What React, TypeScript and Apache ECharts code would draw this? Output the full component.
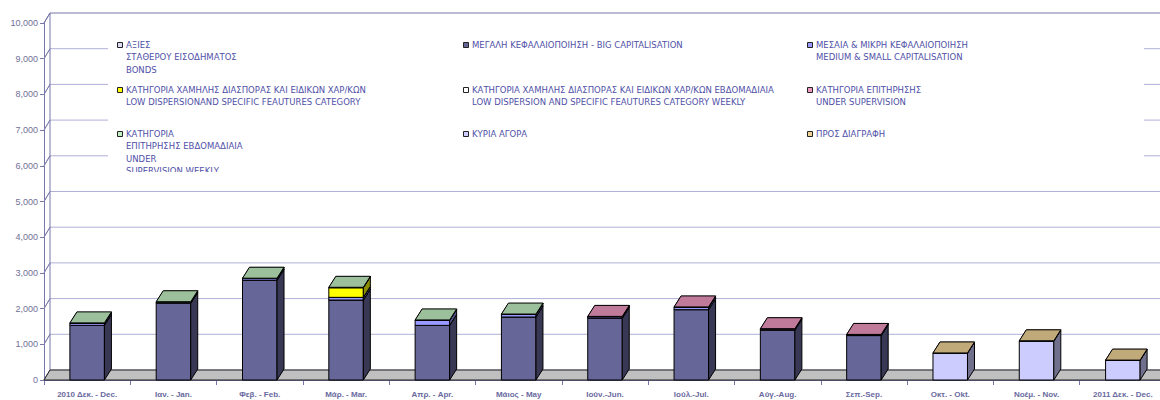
import React, { useEffect, useRef } from "react";
import * as echarts from "echarts";

const categories = [
  "2010 Δεκ. - Dec.", "Ιαν. - Jan.", "Φεβ. - Feb.", "Μάρ. - Mar.", "Απρ. - Apr.",
  "Μάιος - May", "Ιούν.-Jun.", "Ιούλ.-Jul.", "Αύγ.-Aug.", "Σεπ.-Sep.",
  "Οκτ. - Okt.", "Νοέμ. - Nov.", "2011 Δεκ. - Dec.",
];

const N = null;
const bonds = [N, N, N, N, N, N, N, N, N, N, N, N, N];
const bigCap = [1530, 2150, 2790, 2240, 1530, 1765, 1730, 1970, 1400, 1245, N, N, N];
const midSmallCap = [55, 30, 50, 75, 140, 70, 40, 65, 25, 20, N, N, N];
const lowDispersion = [N, N, N, 270, N, N, N, N, N, N, N, N, N];
const lowDispersionWeekly = [N, N, N, N, N, N, N, N, N, N, N, N, N];
const underSupervision = [N, N, N, N, N, N, 12, 12, 12, 12, N, N, N];
const underSupervisionWeekly = [15, 12, 12, 12, 12, 12, N, N, N, N, N, N, N];
const mainMarket = [N, N, N, N, N, N, N, N, N, N, 750, 1090, 550];
const toDelete = [N, N, N, N, N, N, N, N, N, N, 8, 8, 8];

const yTicks = [0, 1000, 2000, 3000, 4000, 5000, 6000, 7000, 8000, 9000, 10000];

const seriesNames = [
  "ΑΞΙΕΣ\nΣΤΑΘΕΡΟΥ ΕΙΣΟΔΗΜΑΤΟΣ\nBONDS",
  "ΜΕΓΑΛΗ ΚΕΦΑΛΑΙΟΠΟΙΗΣΗ - BIG CAPITALISATION",
  "ΜΕΣΑΙΑ & ΜΙΚΡΗ ΚΕΦΑΛΑΙΟΠΟΙΗΣΗ\nMEDIUM & SMALL CAPITALISATION",
  "ΚΑΤΗΓΟΡΙΑ ΧΑΜΗΛΗΣ ΔΙΑΣΠΟΡΑΣ ΚΑΙ ΕΙΔΙΚΩΝ ΧΑΡ/ΚΩΝ\nLOW DISPERSIONAND SPECIFIC FEAUTURES CATEGORY",
  "ΚΑΤΗΓΟΡΙΑ ΧΑΜΗΛΗΣ ΔΙΑΣΠΟΡΑΣ ΚΑΙ ΕΙΔΙΚΩΝ ΧΑΡ/ΚΩΝ ΕΒΔΟΜΑΔΙΑΙΑ\nLOW DISPERSION AND SPECIFIC FEAUTURES CATEGORY WEEKLY",
  "ΚΑΤΗΓΟΡΙΑ ΕΠΙΤΗΡΗΣΗΣ\nUNDER SUPERVISION",
  "ΚΑΤΗΓΟΡΙΑ\nΕΠΙΤΗΡΗΣΗΣ ΕΒΔΟΜΑΔΙΑΙΑ\nUNDER\nSUPERVISION WEEKLY",
  "ΚΥΡΙΑ ΑΓΟΡΑ",
  "ΠΡΟΣ ΔΙΑΓΡΑΦΗ",
];

const seriesValues = [
  bonds, bigCap, midSmallCap, lowDispersion, lowDispersionWeekly,
  underSupervision, underSupervisionWeekly, mainMarket, toDelete,
];

const seriesColors = [
  "#dcdcf4", "#666699", "#9999ff", "#ffff00", "#ffffff",
  "#f099c0", "#c2f0c2", "#ccccff", "#f0d498",
];

function shade(hex: string, f: number) {
  const n = parseInt(hex.slice(1), 16);
  const r = Math.round(((n >> 16) & 255) * f);
  const g = Math.round(((n >> 8) & 255) * f);
  const b = Math.round((n & 255) * f);
  return `rgb(${r},${g},${b})`;
}

const DX = 7, DY = 11; // bar depth
const FDX = 6, FDY = 10; // floor/wall depth
const GRID_COLOR = "#b0b0d8";
const AXIS_COLOR = "#7777aa";
const TEXT_COLOR = "#5050a8";

export default function App() {
  const ref = useRef<HTMLDivElement>(null);
  useEffect(() => {
    if (!ref.current) return;
    const chart = echarts.init(ref.current, undefined, { renderer: "svg" });

    const cum = categories.map(() => 0);
    const barSeries: any[] = seriesValues.map((vals, si) => {
      const data: any[] = [];
      vals.forEach((v, ci) => {
        if (v == null) return;
        const b = cum[ci];
        const t = b + v;
        cum[ci] = t;
        data.push([ci, b, t]);
      });
      const col = seriesColors[si];
      const front = col;
      const side = shade(col, 0.55);
      const top = shade(col, 0.8);
      return {
        type: "custom",
        name: seriesNames[si],
        z: 5,
        clip: false,
        encode: { x: 0, y: [1, 2] },
        data,
        renderItem: (params: any, api: any) => {
          const idx = api.value(0);
          const pb = api.coord([idx, api.value(1)]);
          const pt = api.coord([idx, api.value(2)]);
          const bw = api.size([1, 0])[0] * 0.4;
          const x0 = pb[0] - bw / 2;
          const x1 = x0 + bw;
          const yb = pb[1];
          const yt = pt[1];
          const st = (fill: string) => ({ fill, stroke: "#000", lineWidth: 1 });
          return {
            type: "group",
            children: [
              { type: "polygon", shape: { points: [[x0, yb], [x1, yb], [x1, yt], [x0, yt]] }, style: st(front) },
              { type: "polygon", shape: { points: [[x1, yb], [x1 + DX, yb - DY], [x1 + DX, yt - DY], [x1, yt]] }, style: st(side) },
              { type: "polygon", shape: { points: [[x0, yt], [x1, yt], [x1 + DX, yt - DY], [x0 + DX, yt - DY]] }, style: st(top) },
            ],
          };
        },
      };
    });

    const frameSeries = {
      type: "custom",
      z: 1,
      clip: false,
      silent: true,
      encode: { x: 0, y: 1 },
      data: [[0, 0]],
      renderItem: (params: any, api: any) => {
        const cs = params.coordSys;
        const left = cs.x;
        const right = cs.x + cs.width + 20;
        const children: any[] = [];
        yTicks.forEach((v) => {
          const y = api.coord([0, v])[1];
          const isTop = v === yTicks[yTicks.length - 1];
          children.push({
            type: "polyline",
            shape: { points: [[left, y], [left + FDX, y - FDY], [right, y - FDY]] },
            style: { stroke: isTop ? AXIS_COLOR : GRID_COLOR, lineWidth: 1, fill: null },
          });
          children.push({
            type: "line",
            shape: { x1: left, y1: y, x2: left + FDX, y2: y - FDY },
            style: { stroke: AXIS_COLOR, lineWidth: 1 },
          });
        });
        const y0 = api.coord([0, yTicks[0]])[1];
        const yTop = api.coord([0, yTicks[yTicks.length - 1]])[1];
        children.push({
          type: "line",
          shape: { x1: left + FDX, y1: y0 - FDY, x2: left + FDX, y2: yTop - FDY },
          style: { stroke: AXIS_COLOR, lineWidth: 1 },
        });
        const fb = cs.y + cs.height;
        children.push({
          type: "polygon",
          shape: { points: [[left, fb], [right, fb], [right + FDX, fb - FDY], [left + FDX, fb - FDY]] },
          style: { fill: "#c0c0c0", stroke: "#222", lineWidth: 1 },
        });
        return { type: "group", children };
      },
    };

    const colX = [117.5, 463.5, 807.5];
    const rowY = [39, 84, 128];
    const legendEls: any[] = [
      { type: "rect", shape: { x: 108, y: 22, width: 1036, height: 150 }, style: { fill: "#fff" }, z: 100 },
    ];
    seriesNames.forEach((name, i) => {
      const cx = colX[i % 3];
      const ry = rowY[Math.floor(i / 3)];
      legendEls.push({
        type: "rect",
        shape: { x: cx, y: ry + 3.5, width: 5, height: 5 },
        style: { fill: seriesColors[i], stroke: "#222", lineWidth: 1 },
        z: 101,
      });
      legendEls.push({
        type: "text",
        x: cx + 8.5,
        y: ry,
        style: {
          text: name,
          fill: TEXT_COLOR,
          font: "8.5px 'DejaVu Sans'",
          lineHeight: 12.2,
          verticalAlign: "top",
          align: "left",
        },
        z: 101,
      });
    });
    legendEls.push({ type: "rect", shape: { x: 110, y: 172, width: 300, height: 8 }, style: { fill: "#fff" }, z: 102 });

    chart.setOption({
      animation: false,
      backgroundColor: "#fff",
      grid: { left: 44, top: 23, height: 357, width: 1122, containLabel: false },
      xAxis: {
        type: "category",
        data: categories,
        axisLine: { show: true, lineStyle: { color: AXIS_COLOR } },
        axisTick: { show: true, length: 5, lineStyle: { color: AXIS_COLOR } },
        axisLabel: {
          interval: 0,
          margin: 10,
          color: "#6a6aa0",
          fontSize: 8,
          fontWeight: "bold",
          fontFamily: "'Liberation Sans', Arial, sans-serif",
        },
        splitLine: { show: false },
      },
      yAxis: {
        type: "value",
        min: 0,
        max: 10000,
        interval: 1000,
        axisLine: { show: true, lineStyle: { color: AXIS_COLOR } },
        axisTick: { show: true, length: 4, lineStyle: { color: AXIS_COLOR } },
        axisLabel: {
          margin: 6,
          color: "#707098",
          fontSize: 9,
          fontFamily: "'Liberation Sans', Arial, sans-serif",
          formatter: (v: number) => v.toLocaleString("en-US"),
        },
        splitLine: { show: false },
      },
      series: [frameSeries, ...barSeries],
      graphic: legendEls,
    });
    return () => chart.dispose();
  }, []);

  return (
    <div style={{ position: "fixed", left: 0, top: 0, width: 1160, height: 400, overflow: "hidden", background: "#fff" }}>
      <div ref={ref} style={{ width: 1180, height: 400 }} />
    </div>
  );
}
